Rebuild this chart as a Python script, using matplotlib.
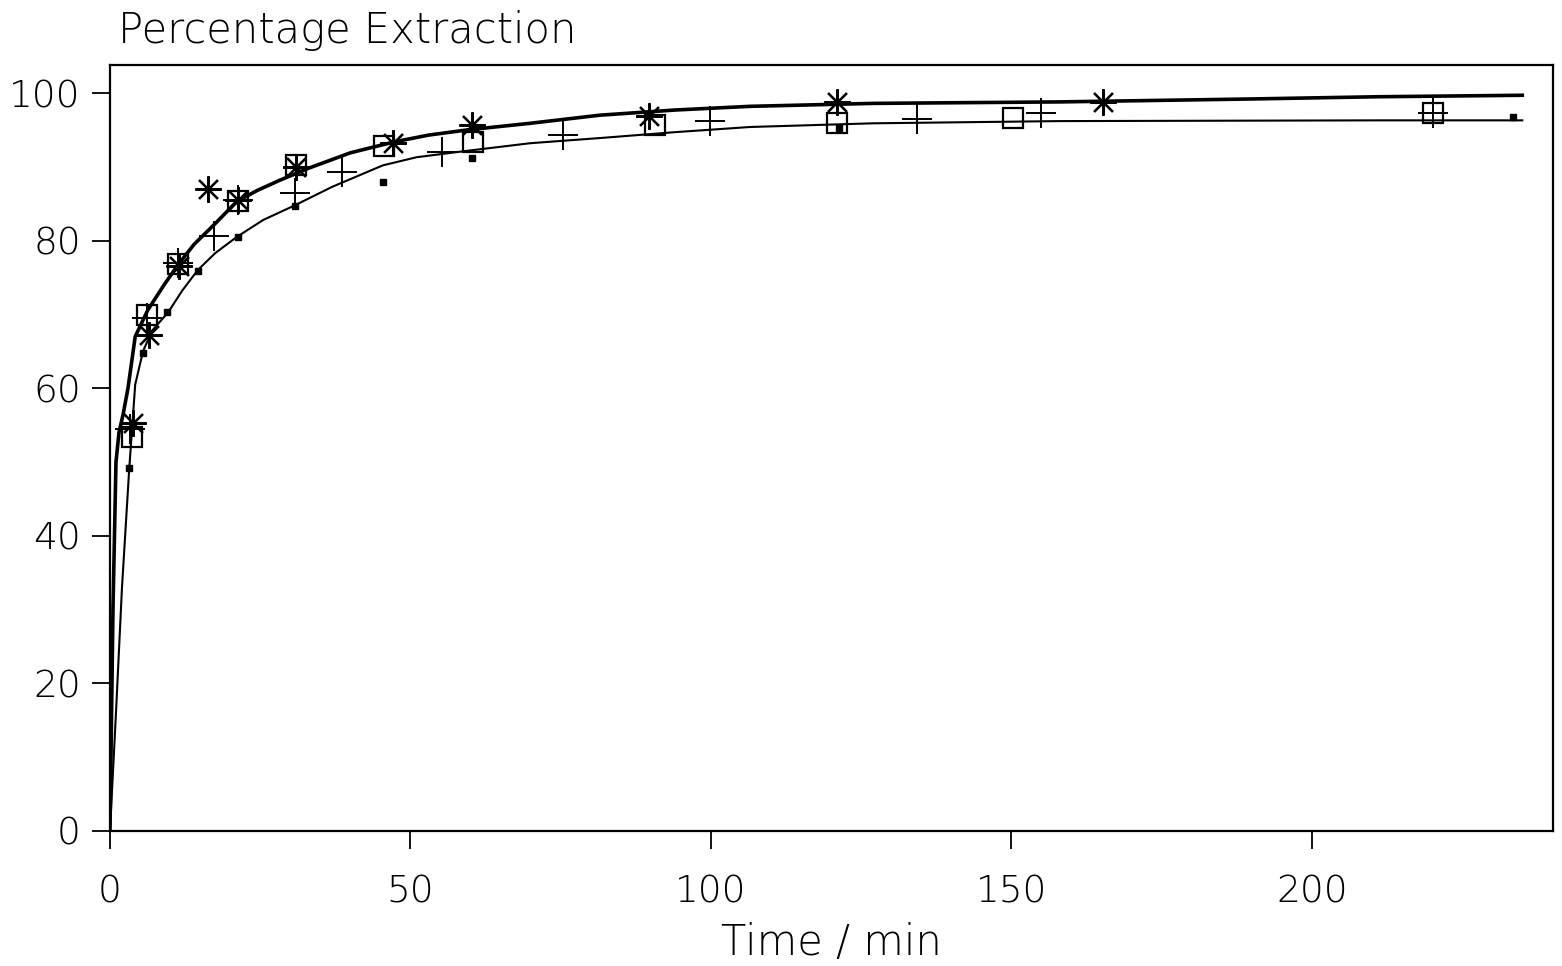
import matplotlib
matplotlib.use("Agg")
import matplotlib.pyplot as plt

plt.rcParams['font.family'] = ['DejaVu Sans']

# fitted curves
upper_x = [0, 0.5, 1.0, 1.5, 2.2, 3.0, 4.2, 6.3, 9, 11.3, 14, 17.5, 21.1, 24.5, 28.3, 33, 40, 47.4, 53, 59.4, 69.9, 81.5, 94, 106.5, 127, 158, 190, 211, 235]
upper_y = [0, 30, 50, 54, 56.5, 60, 67, 70.6, 74, 76.7, 79.5, 82.3, 85.3, 86.8, 88.2, 89.8, 91.9, 93.4, 94.3, 95.0, 95.9, 97.0, 97.7, 98.2, 98.6, 98.8, 99.2, 99.5, 99.7]
lower_x = [0, 1.0, 2.0, 3.2, 4.2, 5.5, 7, 9.7, 12, 14.6, 17.5, 21.1, 25.5, 30.8, 37, 45.4, 51, 58.7, 69.9, 81.5, 94, 106.5, 127, 158, 211, 235]
lower_y = [0, 16, 33, 49, 60.5, 65, 67.8, 70.3, 73.2, 76, 78.3, 80.5, 82.8, 84.8, 87.3, 90.2, 91.3, 92.1, 93.2, 93.9, 94.7, 95.4, 95.9, 96.2, 96.3, 96.3]

# measured points
sq_x = [3.6, 6.1, 11.3, 21.3, 31, 45.6, 60.4, 90.7, 121, 150.3, 220.2]
sq_y = [53.4, 69.9, 76.8, 85.4, 90.2, 92.8, 93.4, 95.7, 95.9, 96.6, 97.3]

ast_x = [3.9, 6.5, 11.5, 16.3, 21.3, 31, 47.1, 60.3, 89.7, 121, 165.2]
ast_y = [55.3, 67.2, 76.5, 87.0, 85.5, 90.0, 93.2, 95.7, 96.9, 98.8, 98.8]

plus_x = [3.3, 6.1, 11.3, 17.3, 21.3, 30.8, 38.6, 55.2, 75.4, 99.8, 134.3, 155, 220.2]
plus_y = [54.5, 69.5, 77.0, 80.6, 85.5, 86.4, 89.3, 92.0, 94.3, 96.2, 96.5, 97.3, 97.3]

dot_x = [3.2, 5.5, 9.5, 14.6, 21.3, 30.8, 45.4, 60.2, 121.3, 233.4]
dot_y = [49.2, 64.8, 70.3, 75.9, 80.5, 84.7, 87.9, 91.2, 95.3, 96.7]

fig = plt.figure(figsize=(15.62, 9.66), dpi=100)
ax = fig.add_axes([0.0704, 0.1398, 0.9238, 0.7929])

ax.plot(upper_x, upper_y, color='black', lw=2.6)
ax.plot(lower_x, lower_y, color='black', lw=1.5)

ax.plot(sq_x, sq_y, ls='none', marker='s', ms=14, mfc='none', mec='black', mew=1.6)
ax.plot(ast_x, ast_y, ls='none', marker=(8, 2, 0), ms=19, mec='black', mew=1.6)
ax.plot(plus_x, plus_y, ls='none', marker='+', ms=22, mec='black', mew=1.4)
ax.plot(dot_x, dot_y, ls='none', marker='s', ms=5, color='black')

ax.set_xlim(0, 240.1)
ax.set_ylim(0, 103.8)
ax.set_xticks([0, 50, 100, 150, 200])
ax.set_yticks([0, 20, 40, 60, 80, 100])

ax.tick_params(direction='out', length=13, width=1.3, labelsize=27, colors='black')
ax.tick_params(axis='x', pad=18)
ax.tick_params(axis='y', pad=8)
for lab in ax.get_xticklabels() + ax.get_yticklabels():
    lab.set_fontweight('light')
for sp in ax.spines.values():
    sp.set_linewidth(1.6)

ax.set_xlabel("Time / min", fontsize=30, fontweight='light', labelpad=9)
fig.text(0.0755, 0.968, "Percentage Extraction", fontsize=30, fontweight='light',
         ha='left', va='center')

fig.savefig("out.png", dpi=100)
